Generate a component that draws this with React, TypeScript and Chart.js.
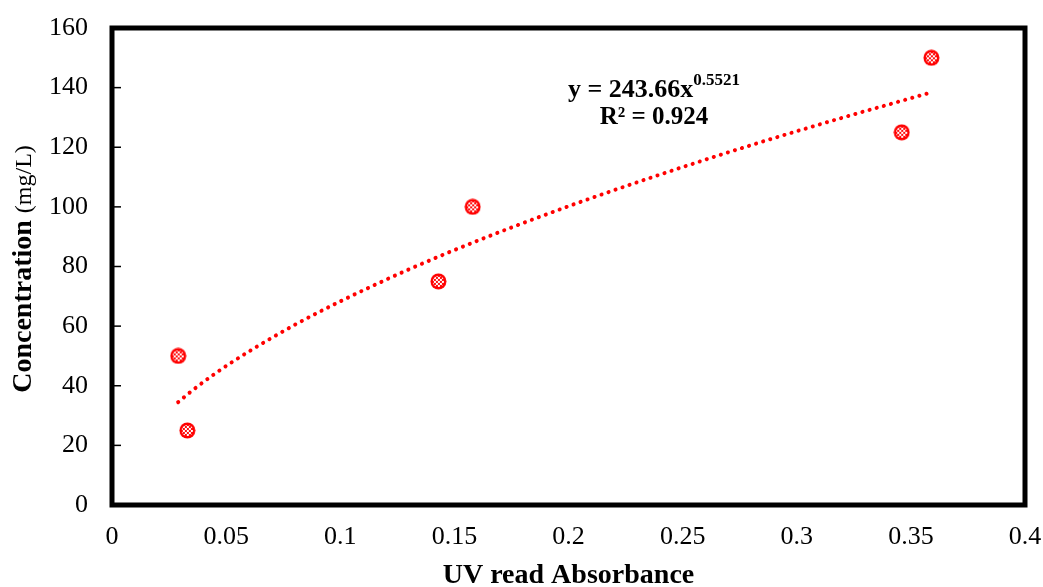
import React, { useEffect, useRef } from "react";
import { Chart, registerables } from "chart.js";

Chart.register(...registerables);

const absorbance = [0.029, 0.033, 0.143, 0.158, 0.346, 0.359];
const concentration = [50, 25, 75, 100, 125, 150];

const trendX = [0.029, 0.035, 0.045, 0.06, 0.08, 0.1, 0.13, 0.16, 0.2, 0.24, 0.28, 0.32, 0.358];
const trendY = [34.5, 38.3, 44.0, 51.5, 60.4, 68.3, 79.0, 88.6, 100.2, 110.8, 120.7, 129.9, 138.2];

const yTicks = [0, 20, 40, 60, 80, 100, 120, 140, 160];
const xTickLabels = ["0", "0.05", "0.1", "0.15", "0.2", "0.25", "0.3", "0.35", "0.4"];

const equationText = "y = 243.66x";
const exponentText = "0.5521";
const r2Text = "R² = 0.924";

const SERIF = "'Liberation Serif', 'Times New Roman', serif";

function makeMarker(): HTMLCanvasElement {
  const c = document.createElement("canvas");
  const s = 17;
  c.width = s;
  c.height = s;
  const ctx = c.getContext("2d")!;
  const cx = s / 2, cy = s / 2;
  ctx.fillStyle = "#ff0000";
  ctx.beginPath();
  ctx.arc(cx, cy, 8, 0, Math.PI * 2);
  ctx.fill();
  ctx.save();
  ctx.beginPath();
  ctx.arc(cx, cy, 5.6, 0, Math.PI * 2);
  ctx.clip();
  for (let i = 0; i < s; i += 2) {
    for (let j = 0; j < s; j += 2) {
      ctx.fillStyle = ((i + j) / 2) % 2 === 0 ? "#ffffff" : "#ff1010";
      ctx.fillRect(i, j, 2, 2);
    }
  }
  ctx.restore();
  return c;
}

export default function App() {
  const ref = useRef<HTMLCanvasElement | null>(null);
  useEffect(() => {
    if (!ref.current) return;
    const marker = makeMarker();
    const framePlugin = {
      id: "frame",
      afterDraw(chart: any) {
        const { ctx, chartArea, scales } = chart;
        const { left, right, top, bottom } = chartArea;
        ctx.save();
        ctx.strokeStyle = "#000";
        ctx.lineWidth = 1.5;
        yTicks.forEach((v) => {
          const py = scales.y.getPixelForValue(v);
          ctx.beginPath();
          ctx.moveTo(left, py);
          ctx.lineTo(left + 9, py);
          ctx.stroke();
        });
        ctx.lineWidth = 5;
        ctx.strokeRect(left, top, right - left, bottom - top);
        // y title
        ctx.translate(24, 269);
        ctx.rotate(-Math.PI / 2);
        ctx.fillStyle = "#000";
        ctx.textBaseline = "middle";
        const boldFont = "bold 28px " + SERIF;
        const normFont = "24px " + SERIF;
        ctx.font = boldFont;
        const w1 = ctx.measureText("Concentration ").width;
        ctx.font = normFont;
        const w2 = ctx.measureText("(mg/L)").width;
        const start = -(w1 + w2) / 2;
        ctx.font = boldFont;
        ctx.textAlign = "left";
        ctx.fillText("Concentration ", start, 0);
        ctx.font = normFont;
        ctx.fillText("(mg/L)", start + w1, 1);
        ctx.restore();

        // equation
        ctx.save();
        ctx.fillStyle = "#000";
        ctx.textBaseline = "alphabetic";
        ctx.font = "bold 26px " + SERIF;
        const we = ctx.measureText(equationText).width;
        ctx.font = "bold 17px " + SERIF;
        const wx = ctx.measureText(exponentText).width;
        const ex = 654 - (we + wx) / 2;
        ctx.font = "bold 26px " + SERIF;
        ctx.textAlign = "left";
        ctx.fillText(equationText, ex, 97);
        ctx.font = "bold 17px " + SERIF;
        ctx.fillText(exponentText, ex + we, 85);
        ctx.font = "bold 25px " + SERIF;
        ctx.textAlign = "center";
        ctx.fillText(r2Text, 654, 124);
        ctx.restore();
      },
    };
    const chart = new Chart(ref.current, {
      type: "scatter",
      data: {
        datasets: [
          {
            label: "Data",
            data: absorbance.map((x, i) => ({ x, y: concentration[i] })),
            pointStyle: marker as any,
            pointRadius: 8,
            showLine: false,
          },
          {
            label: "Trend",
            data: trendX.map((x, i) => ({ x, y: trendY[i] })),
            showLine: true,
            borderColor: "#ff0000",
            borderWidth: 4,
            borderDash: [0.1, 7.3],
            borderCapStyle: "round",
            cubicInterpolationMode: "monotone",
            pointRadius: 0,
            fill: false,
          },
        ],
      },
      options: {
        animation: false,
        responsive: false,
        maintainAspectRatio: false,
        layout: { padding: { left: 0, right: 18, top: 28, bottom: 0 } },
        plugins: { legend: { display: false }, tooltip: { enabled: false } },
        scales: {
          x: {
            type: "linear",
            min: 0,
            max: 0.4,
            grid: { display: false, drawTicks: false },
            border: { display: false },
            ticks: {
              stepSize: 0.05,
              color: "#000",
              padding: 17,
              font: { family: SERIF, size: 26 },
              callback: (v: any, i: number) => xTickLabels[i] ?? String(v),
            },
            title: {
              display: true,
              text: "UV read Absorbance",
              color: "#000",
              font: { family: SERIF, size: 28, weight: "bold", lineHeight: 1 },
              padding: { top: 0, bottom: -3 },
            },
            afterFit: (s: any) => {
              s.height = 82;
              s.paddingLeft = 0;
              s.paddingRight = 0;
            },
          },
          y: {
            type: "linear",
            min: 0,
            max: 160,
            grid: { display: false, drawTicks: false },
            border: { display: false },
            ticks: {
              stepSize: 20,
              color: "#000",
              padding: 24,
              font: { family: SERIF, size: 26 },
            },
            afterFit: (s: any) => {
              s.width = 112;
              s.paddingTop = 0;
              s.paddingBottom = 0;
            },
          },
        },
      },
      plugins: [framePlugin],
    });
    return () => chart.destroy();
  }, []);
  return (
    <div style={{ position: "fixed", left: 0, top: 0, width: 1043, height: 587, background: "#fff" }}>
      <canvas ref={ref} width={1043} height={587} style={{ width: 1043, height: 587 }} />
    </div>
  );
}
